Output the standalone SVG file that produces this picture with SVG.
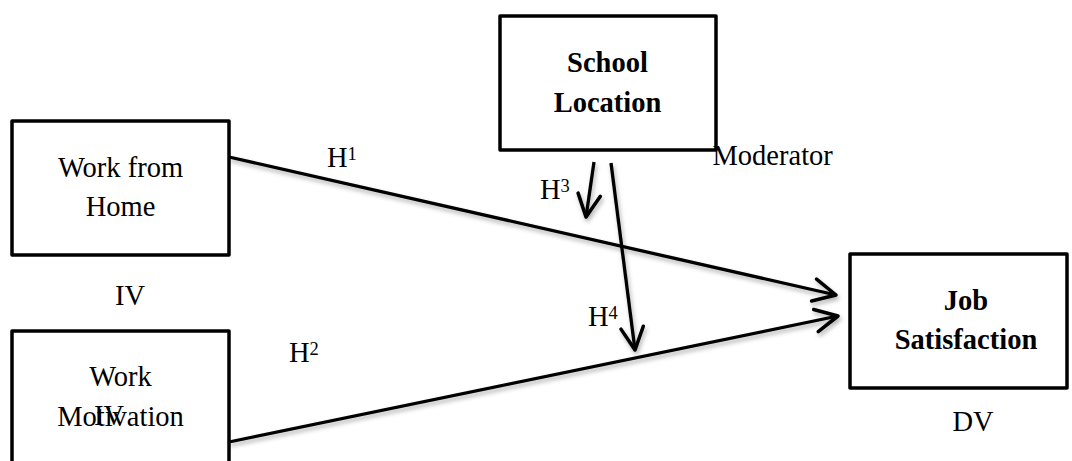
<svg xmlns="http://www.w3.org/2000/svg" width="1072" height="461" viewBox="0 0 1072 461">
<style>
.box{fill:#fff;stroke:#000;stroke-width:3.5;stroke-linejoin:round}
.t{font-family:"Liberation Serif","Times New Roman",serif;font-size:28.5px;fill:#000}
.b{font-weight:bold}
.m{text-anchor:middle}
.sup{font-size:18.5px}
.ln{stroke:#000;stroke-width:3.3;fill:none;marker-end:url(#ah)}
</style>
<defs>
<marker id="ah" markerUnits="userSpaceOnUse" markerWidth="30" markerHeight="30" viewBox="-24 -14 28 28" refX="0" refY="0" orient="auto">
<path d="M-21,-10.5 L0,0 L-21,10.5" fill="none" stroke="#000" stroke-width="3.3" stroke-linecap="round" stroke-linejoin="round"/>
</marker>
<filter id="sh" x="-10%" y="-20%" width="120%" height="140%">
<feDropShadow dx="1.5" dy="3" stdDeviation="2" flood-color="#000" flood-opacity="0.3"/>
</filter>
</defs>
<rect width="1072" height="461" fill="#fff"/>
<g id="connectors" filter="url(#sh)">
<line class="ln" x1="229" y1="157" x2="836" y2="295"/>
<line class="ln" x1="229" y1="442" x2="838" y2="316"/>
<line class="ln" x1="594" y1="162" x2="586" y2="217"/>
<line class="ln" x1="611" y1="163" x2="635" y2="350"/>
</g>
<g id="work-from-home">
<rect class="box" x="12" y="121" width="217" height="134"/>
<text class="t m" x="120.5" y="177">Work from</text>
<text class="t m" x="120.5" y="216">Home</text>
</g>
<g id="work-motivation">
<rect class="box" x="12" y="331" width="217" height="140"/>
<text class="t m" x="120.5" y="386">Work</text>
<text class="t m" x="120.5" y="426">Motivation</text>
</g>
<g id="school-location">
<rect class="box" x="500" y="16" width="216" height="134"/>
<text class="t b m" x="607.5" y="72">School</text>
<text class="t b m" x="607.5" y="112">Location</text>
</g>
<g id="job-satisfaction">
<rect class="box" x="850" y="254" width="217" height="134"/>
<text class="t b m" x="966" y="310">Job</text>
<text class="t b m" x="966" y="349">Satisfaction</text>
</g>
<g id="labels">
<text class="t m" x="130" y="305">IV</text>
<text class="t m" x="109" y="425">IV</text>
<text class="t" x="712.5" y="165">Moderator</text>
<text class="t m" x="973" y="431">DV</text>
<text class="t" x="327" y="167">H<tspan class="sup" dy="-7">1</tspan></text>
<text class="t" x="289" y="362">H<tspan class="sup" dy="-7">2</tspan></text>
<text class="t" x="540" y="199">H<tspan class="sup" dy="-7">3</tspan></text>
<text class="t" x="588" y="326">H<tspan class="sup" dy="-7">4</tspan></text>
</g>
</svg>
